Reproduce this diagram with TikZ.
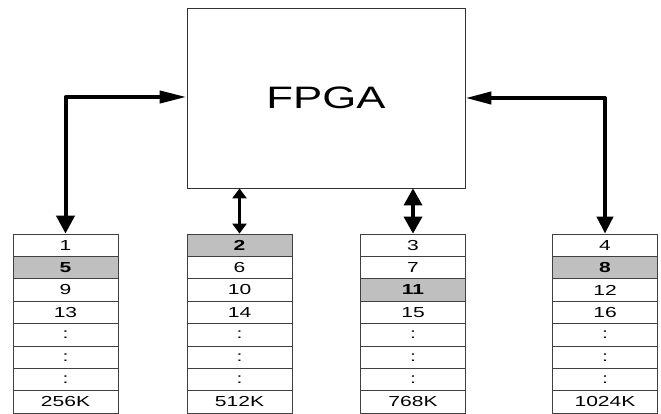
\documentclass[tikz,border=0pt]{standalone}
\usepackage{fontspec}
\usepackage{graphicx}
\setmainfont{Liberation Sans}
\usetikzlibrary{arrows.meta}
\newcommand{\wide}[1]{\scalebox{1.45}[1]{#1}}
\begin{document}
\begin{tikzpicture}[x=1pt,y=-1pt,
  fpgabox/.style={draw=black!80, line width=0.8pt, minimum width=278pt, minimum height=180pt, inner sep=0pt, font=\fontsize{31}{31}\selectfont},
  cell/.style={draw=black!75, line width=0.8pt, minimum width=105pt, minimum height=22.4pt, inner sep=0pt, font=\fontsize{14.5}{14.5}\selectfont},
  hicell/.style={cell, fill=black!25, font=\fontsize{14.5}{14.5}\selectfont\bfseries},
  bigarrow/.style={line width=4pt, line join=round},
  smallarrow/.style={line width=2.5pt, {Triangle[length=10pt,width=14pt]}-{Triangle[length=10pt,width=14pt]}},
  medarrow/.style={line width=3.5pt, {Triangle[length=17pt,width=18pt]}-{Triangle[length=17pt,width=18pt]}}]
\useasboundingbox (0,0) rectangle (661,414);
\node[fpgabox] (fpga) at (326,98) {\scalebox{1.41}[1]{FPGA}};
% columns
\foreach \c/\x/\lst in {1/65.5/{1,5,9,13,:,:,:,256K},2/239.5/{2,6,10,14,:,:,:,512K},3/413/{3,7,11,15,:,:,:,768K},4/605/{4,8,12,16,:,:,:,1024K}}{
  \foreach \t [count=\r] in \lst {
    \pgfmathsetmacro{\yy}{234+11.2+22.4*(\r-1)}
    \node[cell] (c\c-\r) at (\x,\yy) {\wide{\t}};
  }
}
% highlighted cells redrawn
\node[hicell] at (c1-2) {\wide{5}};
\node[hicell] at (c2-1) {\wide{2}};
\node[hicell] at (c3-3) {\wide{11}};
\node[hicell] at (c4-2) {\wide{8}};
% connectors
\draw[bigarrow, {Triangle[length=18pt,width=18pt]}-{Triangle[length=27pt,width=12pt]}] (c1-1.north) |- ([yshift=1pt]fpga.west);
\draw[bigarrow, {Triangle[length=17pt,width=16pt]}-{Triangle[length=26pt,width=12pt]}] (c4-1.north) |- (fpga.east);
\draw[smallarrow] (c2-1.north) -- (c2-1.north |- fpga.south);
\draw[medarrow] (c3-1.north) -- (c3-1.north |- fpga.south);
\end{tikzpicture}
\end{document}
